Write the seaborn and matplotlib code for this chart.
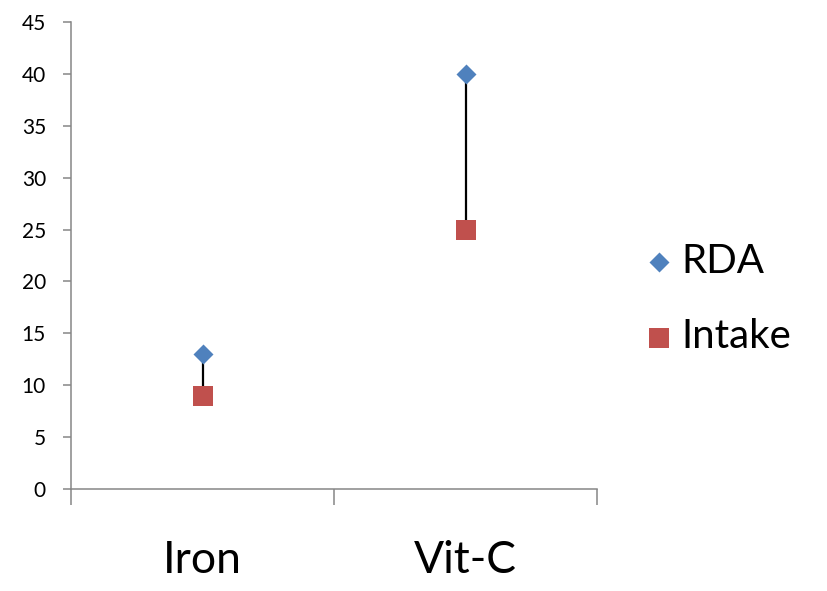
import matplotlib
matplotlib.use("Agg")
import matplotlib.pyplot as plt
import seaborn as sns
import pandas as pd

categories = ["Iron", "Vit-C"]
rda = [13, 40]
intake = [9, 25]
y_ticks = [0, 5, 10, 15, 20, 25, 30, 35, 40, 45]

sns.set_style("white")
plt.rcParams["font.family"] = ["Lato", "DejaVu Sans"]
plt.rcParams["text.color"] = "black"
plt.rcParams["xtick.labelcolor"] = "black"
plt.rcParams["ytick.labelcolor"] = "black"

df_rda = pd.DataFrame({"Nutrient": categories, "Value": rda})
df_int = pd.DataFrame({"Nutrient": categories, "Value": intake})

fig = plt.figure(figsize=(8.27, 5.91), dpi=100)
ax = fig.add_axes([71 / 827, 1 - 489 / 591, (597 - 71) / 827, (489 - 22) / 591])

blue = "#4F81BD"
red = "#C0504D"
gray = "#868686"

pos = list(range(len(categories)))
ax.vlines(pos, intake, rda, color="black", linewidth=1.6, zorder=1)
sns.scatterplot(data=df_rda, x="Nutrient", y="Value", marker="D", color=blue,
                s=(20 / 1.414 * 0.72) ** 2, linewidth=0, zorder=3, ax=ax, label="RDA")
sns.scatterplot(data=df_int, x="Nutrient", y="Value", marker="s", color=red,
                s=(20 * 0.72) ** 2, linewidth=0, zorder=3, ax=ax, label="Intake")

ax.set_xlim(-0.5, len(categories) - 0.5)
ax.set_ylim(0, 45)
ax.set_yticks(y_ticks)
ax.set_yticklabels([str(v) for v in y_ticks], fontsize=15, color="black")
ax.set_xticks([i - 0.5 for i in range(len(categories) + 1)])
ax.set_xticklabels([""] * (len(categories) + 1))
ax.set_xticks(pos, minor=True)
ax.set_xticklabels(categories, minor=True, fontsize=32, color="black")
ax.tick_params(axis="x", which="major", direction="out", length=11.5, width=1.1,
               color=gray, bottom=True)
ax.tick_params(axis="x", which="minor", length=0, pad=37, bottom=True)
ax.tick_params(axis="y", direction="out", length=6, width=1.1, color=gray,
               pad=12, left=True)
ax.set_xlabel("")
ax.set_ylabel("")
for side in ["top", "right"]:
    ax.spines[side].set_visible(False)
for side in ["left", "bottom"]:
    ax.spines[side].set_color(gray)
    ax.spines[side].set_linewidth(1.1)

handles, labels = ax.get_legend_handles_labels()
leg = ax.legend(handles, labels, loc="center left", bbox_to_anchor=(639 / 827, 1 - 299 / 591),
                bbox_transform=fig.transFigure, frameon=False, fontsize=29,
                handletextpad=0.05, labelspacing=0.95, borderaxespad=0, borderpad=0,
                handlelength=1.0)
for t in leg.get_texts():
    t.set_color("black")

fig.savefig("out.png", dpi=100)
